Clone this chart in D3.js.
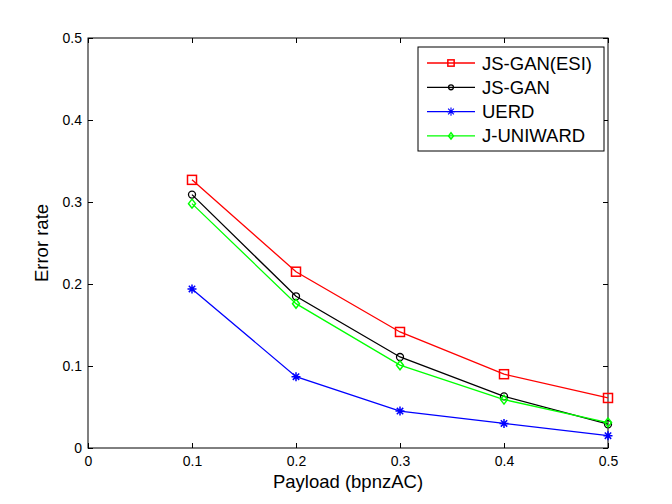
<!DOCTYPE html>
<html>
<head>
<meta charset="utf-8">
<script src="https://cdn.jsdelivr.net/npm/d3@7"></script>
<style>
  body { margin: 0; background: #fff; }
  text { font-family: "Liberation Sans", Arial, sans-serif; }
</style>
</head>
<body>
<div id="chart"></div>
<script>
var width = 672,
    height = 504;

var margin = {left: 88, right: 64, top: 38, bottom: 56};

// data
var payload = [0.1, 0.2, 0.3, 0.4, 0.5];
var seriesNames = ["JS-GAN(ESI)", "JS-GAN", "UERD", "J-UNIWARD"];
var esiValues = [0.327, 0.215, 0.1415, 0.090, 0.061];
var jsganValues = [0.309, 0.185, 0.111, 0.063, 0.029];
var uerdValues = [0.194, 0.087, 0.045, 0.030, 0.015];
var juniwardValues = [0.298, 0.176, 0.101, 0.059, 0.031];
var xTicks = [0, 0.1, 0.2, 0.3, 0.4, 0.5];
var yTicks = [0, 0.1, 0.2, 0.3, 0.4, 0.5];

var series = [
  {name: seriesNames[0], values: esiValues, color: "#ff0000", marker: "square"},
  {name: seriesNames[1], values: jsganValues, color: "#000000", marker: "circle"},
  {name: seriesNames[2], values: uerdValues, color: "#0000ff", marker: "star"},
  {name: seriesNames[3], values: juniwardValues, color: "#00ff00", marker: "diamond"}
];

var svg = d3.select("#chart")
    .append("svg")
    .attr("width", width)
    .attr("height", height);

var x = d3.scaleLinear().domain([0, 0.5]).range([margin.left, width - margin.right]);
var y = d3.scaleLinear().domain([0, 0.5]).range([height - margin.bottom, margin.top]);

/* box */
svg.append("rect")
    .attr("x", x(0))
    .attr("y", y(0.5))
    .attr("width", x(0.5) - x(0))
    .attr("height", y(0) - y(0.5))
    .style("fill", "#fff")
    .style("stroke", "#000")
    .style("stroke-width", 1);

/* axes, MATLAB style inward ticks */
var fmt = function(d) { return d === 0 ? "0" : d3.format(".1f")(d); };

var xAxis = svg.append("g")
    .attr("transform", "translate(0," + y(0) + ")")
    .call(d3.axisBottom(x).tickValues(xTicks).tickSize(-5).tickPadding(8).tickFormat(fmt));
var xAxisTop = svg.append("g")
    .attr("transform", "translate(0," + y(0.5) + ")")
    .call(d3.axisTop(x).tickValues(xTicks).tickSize(-5).tickFormat(""));
var yAxis = svg.append("g")
    .attr("transform", "translate(" + x(0) + ",0)")
    .call(d3.axisLeft(y).tickValues(yTicks).tickSize(-5).tickPadding(6).tickFormat(fmt));
var yAxisRight = svg.append("g")
    .attr("transform", "translate(" + x(0.5) + ",0)")
    .call(d3.axisRight(y).tickValues(yTicks).tickSize(-5).tickFormat(""));

[xAxis, xAxisTop, yAxis, yAxisRight].forEach(function(a) {
  a.select(".domain").remove();
  a.selectAll("line").style("stroke", "#000");
  a.selectAll("text").style("font-size", "14px").style("fill", "#000")
      .style("font-family", "'Liberation Sans', Arial, sans-serif");
});

/* axis labels */
svg.append("text")
    .attr("x", (x(0) + x(0.5)) / 2)
    .attr("y", 488)
    .attr("text-anchor", "middle")
    .style("font-size", "18.5px")
    .text("Payload (bpnzAC)");

svg.append("text")
    .attr("transform", "translate(48," + ((y(0) + y(0.5)) / 2) + ") rotate(-90)")
    .attr("text-anchor", "middle")
    .style("font-size", "18.5px")
    .text("Error rate");

/* markers */
function drawMarker(g, type, cx, cy, color, s) {
  s = s || 1;
  if (type === "square") {
    g.append("rect").attr("x", cx - 4.5 * s).attr("y", cy - 4.5 * s).attr("width", 9 * s).attr("height", 9 * s)
        .style("fill", "none").style("stroke", color).style("stroke-width", 1.5);
  } else if (type === "circle") {
    g.append("circle").attr("cx", cx).attr("cy", cy).attr("r", 3.5 * s)
        .style("fill", "none").style("stroke", color).style("stroke-width", 1.3);
  } else if (type === "diamond") {
    g.append("path")
        .attr("d", "M" + cx + "," + (cy - 4.5 * s) + "L" + (cx + 3.5 * s) + "," + cy + "L" + cx + "," + (cy + 4.5 * s) + "L" + (cx - 3.5 * s) + "," + cy + "Z")
        .style("fill", "none").style("stroke", color).style("stroke-width", 1.5);
  } else if (type === "star") {
    var r = 4.5 * s, q = 3.2 * s;
    var d = "M" + cx + "," + (cy - r) + "L" + cx + "," + (cy + r) +
            "M" + (cx - q) + "," + (cy - q) + "L" + (cx + q) + "," + (cy + q) +
            "M" + (cx - q) + "," + (cy + q) + "L" + (cx + q) + "," + (cy - q) +
            "M" + (cx - r) + "," + cy + "L" + (cx + r) + "," + cy;
    g.append("path").attr("d", d).style("stroke", color).style("stroke-width", s < 1 ? 1.1 : 1.5).style("fill", "none");
  }
}

var line = d3.line()
    .x(function(d, i) { return x(payload[i]); })
    .y(function(d) { return y(d); });

series.forEach(function(s) {
  var g = svg.append("g");
  g.append("path")
      .attr("d", line(s.values))
      .style("fill", "none")
      .style("stroke", s.color)
      .style("stroke-width", 1.3);
  s.values.forEach(function(v, i) {
    drawMarker(g, s.marker, x(payload[i]), y(v), s.color);
  });
});

/* legend */
var legend = svg.append("g").attr("transform", "translate(418,47)");
legend.append("rect")
    .attr("width", 186)
    .attr("height", 104)
    .style("fill", "#fff")
    .style("stroke", "#000")
    .style("stroke-width", 1);

series.forEach(function(s, i) {
  var ly = 16 + i * 24.3;
  legend.append("line")
      .attr("x1", 9).attr("x2", 57)
      .attr("y1", ly).attr("y2", ly)
      .style("stroke", s.color)
      .style("stroke-width", 1.3);
  drawMarker(legend, s.marker, 33, ly, s.color, s.marker === "star" ? 0.9 : 0.7);
  legend.append("text")
      .attr("x", 64)
      .attr("y", ly + 6.5)
      .style("font-size", "18.5px")
      .text(s.name);
});
</script>
</body>
</html>
